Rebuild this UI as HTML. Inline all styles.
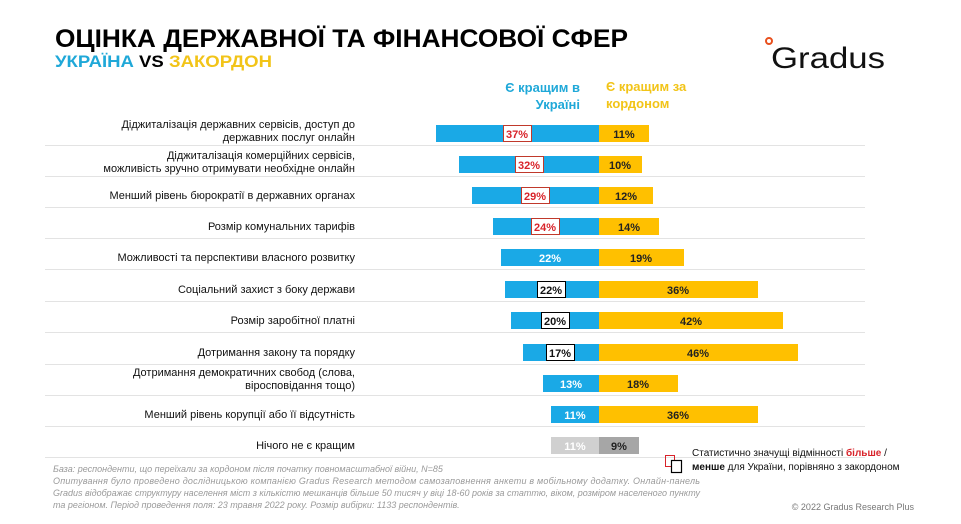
<!DOCTYPE html>
<html><head><meta charset="utf-8"><style>
body{margin:0;background:#fff}
svg{display:block;font-family:"Liberation Sans",sans-serif}
</style></head><body>
<svg width="961" height="524" viewBox="0 0 961 524" xmlns="http://www.w3.org/2000/svg">
<text x="55" y="47" font-size="25" font-weight="bold" fill="#000" textLength="573" lengthAdjust="spacingAndGlyphs">ОЦІНКА ДЕРЖАВНОЇ ТА ФІНАНСОВОЇ СФЕР</text>
<text x="55" y="67" font-size="17" font-weight="bold" textLength="217" lengthAdjust="spacingAndGlyphs"><tspan fill="#1fa8d8">УКРАЇНА </tspan><tspan fill="#000">VS </tspan><tspan fill="#f2c418">ЗАКОРДОН</tspan></text>
<circle cx="769" cy="41" r="3" fill="none" stroke="#e8501e" stroke-width="2"/>
<text x="771" y="68" font-size="30" fill="#111" textLength="114" lengthAdjust="spacingAndGlyphs">Gradus</text>
<g font-size="13" font-weight="bold">
<text x="580" y="92" fill="#1fa8d8" text-anchor="end">Є кращим в</text>
<text x="580" y="109" fill="#1fa8d8" text-anchor="end">Україні</text>
<text x="606" y="91" fill="#f2c418">Є кращим за</text>
<text x="606" y="108" fill="#f2c418">кордоном</text>
</g>
<g stroke="#e3e3e3" stroke-width="1">
<line x1="45" x2="865" y1="145.5" y2="145.5"/><line x1="45" x2="865" y1="176.5" y2="176.5"/>
<line x1="45" x2="865" y1="207.5" y2="207.5"/><line x1="45" x2="865" y1="238.5" y2="238.5"/>
<line x1="45" x2="865" y1="269.5" y2="269.5"/><line x1="45" x2="865" y1="301.5" y2="301.5"/>
<line x1="45" x2="865" y1="332.5" y2="332.5"/><line x1="45" x2="865" y1="364.5" y2="364.5"/>
<line x1="45" x2="865" y1="395.5" y2="395.5"/><line x1="45" x2="865" y1="426.5" y2="426.5"/>
<line x1="45" x2="865" y1="457.5" y2="457.5"/>
</g>
<g font-size="11" fill="#111" text-anchor="end">
<text x="355" y="128">Діджиталізація державних сервісів, доступ до</text>
<text x="355" y="141">державних послуг онлайн</text>
<text x="355" y="159">Діджиталізація комерційних сервісів,</text>
<text x="355" y="172">можливість зручно отримувати необхідне онлайн</text>
<text x="355" y="199">Менший рівень бюрократії в державних органах</text>
<text x="355" y="230">Розмір комунальних тарифів</text>
<text x="355" y="261">Можливості та перспективи власного розвитку</text>
<text x="355" y="293">Соціальний захист з боку держави</text>
<text x="355" y="324">Розмір заробітної платні</text>
<text x="355" y="356">Дотримання закону та порядку</text>
<text x="355" y="376">Дотримання демократичних свобод (слова,</text>
<text x="355" y="389">віросповідання тощо)</text>
<text x="355" y="418">Менший рівень корупції або її відсутність</text>
<text x="355" y="449">Нічого не є кращим</text>
</g>
<g>
<rect x="436" y="125" width="163" height="17" fill="#1aa9e6"/><rect x="599" y="125" width="50" height="17" fill="#ffc000"/>
<rect x="459" y="156" width="140" height="17" fill="#1aa9e6"/><rect x="599" y="156" width="43" height="17" fill="#ffc000"/>
<rect x="472" y="187" width="127" height="17" fill="#1aa9e6"/><rect x="599" y="187" width="54" height="17" fill="#ffc000"/>
<rect x="493" y="218" width="106" height="17" fill="#1aa9e6"/><rect x="599" y="218" width="60" height="17" fill="#ffc000"/>
<rect x="501" y="249" width="98" height="17" fill="#1aa9e6"/><rect x="599" y="249" width="85" height="17" fill="#ffc000"/>
<rect x="505" y="281" width="94" height="17" fill="#1aa9e6"/><rect x="599" y="281" width="159" height="17" fill="#ffc000"/>
<rect x="511" y="312" width="88" height="17" fill="#1aa9e6"/><rect x="599" y="312" width="184" height="17" fill="#ffc000"/>
<rect x="523" y="344" width="76" height="17" fill="#1aa9e6"/><rect x="599" y="344" width="199" height="17" fill="#ffc000"/>
<rect x="543" y="375" width="56" height="17" fill="#1aa9e6"/><rect x="599" y="375" width="79" height="17" fill="#ffc000"/>
<rect x="551" y="406" width="48" height="17" fill="#1aa9e6"/><rect x="599" y="406" width="159" height="17" fill="#ffc000"/>
<rect x="551" y="437" width="48" height="17" fill="#d0d0d0"/><rect x="599" y="437" width="40" height="17" fill="#a6a6a6"/>
</g>
<g fill="#fff" stroke-width="1">
<rect x="503.5" y="125.5" width="28" height="16" stroke="#c0392b"/>
<rect x="515.5" y="156.5" width="28" height="16" stroke="#c0392b"/>
<rect x="521.5" y="187.5" width="28" height="16" stroke="#c0392b"/>
<rect x="531.5" y="218.5" width="28" height="16" stroke="#c0392b"/>
<rect x="537.5" y="281.5" width="28" height="16" stroke="#000"/>
<rect x="541.5" y="312.5" width="28" height="16" stroke="#000"/>
<rect x="546.5" y="344.5" width="28" height="16" stroke="#000"/>
</g>
<g font-size="11" font-weight="bold" text-anchor="middle">
<text x="517" y="138" fill="#d8232a">37%</text><text x="624" y="138" fill="#222">11%</text>
<text x="529" y="169" fill="#d8232a">32%</text><text x="620" y="169" fill="#222">10%</text>
<text x="535" y="200" fill="#d8232a">29%</text><text x="626" y="200" fill="#222">12%</text>
<text x="545" y="231" fill="#d8232a">24%</text><text x="629" y="231" fill="#222">14%</text>
<text x="550" y="262" fill="#fff">22%</text><text x="641" y="262" fill="#222">19%</text>
<text x="551" y="294" fill="#111">22%</text><text x="678" y="294" fill="#222">36%</text>
<text x="555" y="325" fill="#111">20%</text><text x="691" y="325" fill="#222">42%</text>
<text x="560" y="357" fill="#111">17%</text><text x="698" y="357" fill="#222">46%</text>
<text x="571" y="388" fill="#fff">13%</text><text x="638" y="388" fill="#222">18%</text>
<text x="575" y="419" fill="#fff">11%</text><text x="678" y="419" fill="#222">36%</text>
<text x="575" y="450" fill="#fff">11%</text><text x="619" y="450" fill="#222">9%</text>
</g>
<rect x="665.5" y="455.5" width="9" height="11" fill="none" stroke="#d8232a"/>
<rect x="671.5" y="460.5" width="10" height="12" fill="#fff" stroke="#000" stroke-width="1.2"/>
<text x="692" y="456" font-size="10" fill="#111">Статистично значущі відмінності <tspan fill="#d8232a" font-weight="bold">більше</tspan> /</text>
<text x="692" y="470" font-size="10" fill="#111"><tspan font-weight="bold">менше</tspan> для України, порівняно з закордоном</text>
<g font-size="9" font-style="italic" fill="#9a9a9a">
<text x="53" y="472">База: респонденти, що переїхали за кордоном після початку повномасштабної війни, N=85</text>
<text x="53" y="484" textLength="647" lengthAdjust="spacing">Опитування було проведено дослідницькою компанією Gradus Research методом самозаповнення анкети в мобільному додатку. Онлайн-панель</text>
<text x="53" y="496" textLength="647" lengthAdjust="spacing">Gradus відображає структуру населення міст з кількістю мешканців більше 50 тисяч у віці 18-60 років за статтю, віком, розміром населеного пункту</text>
<text x="53" y="508">та регіоном. Період проведення поля: 23 травня 2022 року. Розмір вибірки: 1133 респондентів.</text>
</g>
<text x="914" y="510" font-size="9" fill="#777" text-anchor="end">© 2022 Gradus Research Plus</text>
</svg>
</body></html>
